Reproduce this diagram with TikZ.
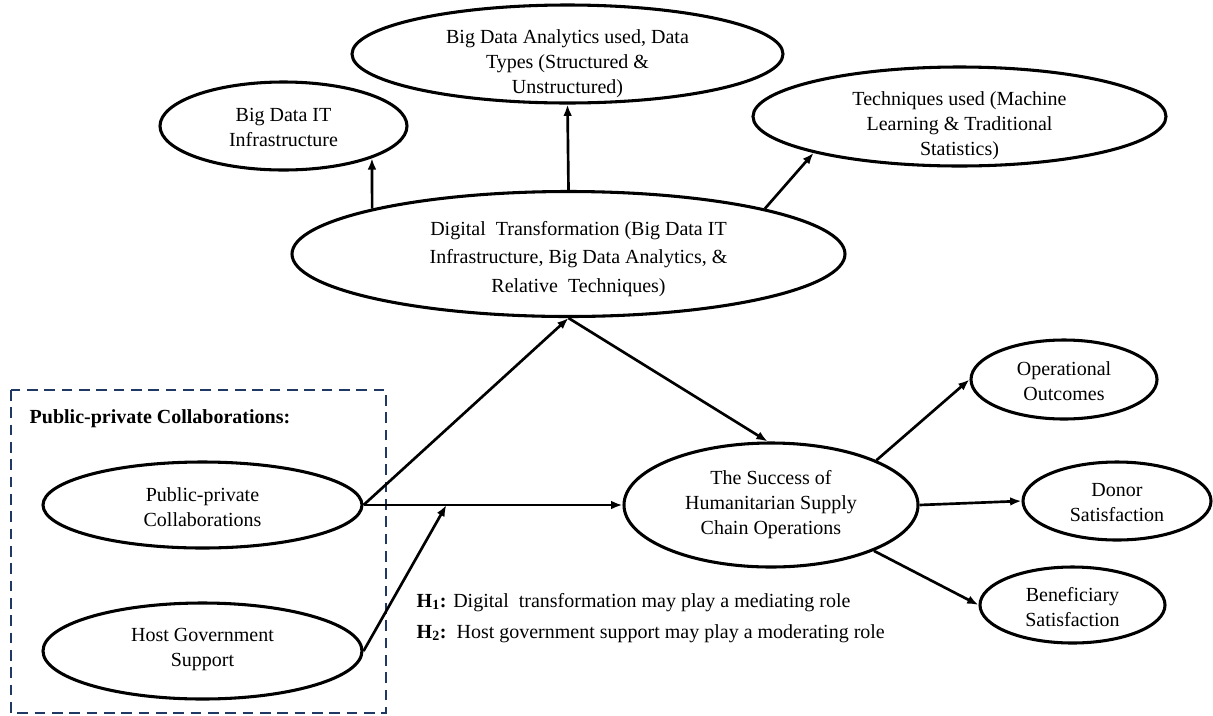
\documentclass[tikz,border=0pt]{standalone}
\usepackage{fontspec}
\setmainfont{Liberation Serif}
\usepackage{tikz}
\usetikzlibrary{arrows.meta,shapes.geometric}
\definecolor{boxnavy}{HTML}{1F3864}
\newcommand{\ovalnode}[8]{%
  \node[oval,minimum width=#4*0.75pt,minimum height=#5*0.75pt] (#1) at (#2,#3) {};
  \node[ovaltext] (#1t) at ([shift={(#6,#7)}]#1.center) {#8};
}
\tikzset{
  oval/.style={ellipse,draw,line width=2.3pt,inner sep=0pt},
  ovaltext/.style={align=center,inner sep=0pt},
  link/.style={line width=2pt,-{Latex[length=8.5pt,width=6.5pt]}},
}

\begin{document}
\begin{tikzpicture}[x=0.75pt,y=-0.75pt,font=\fontsize{15}{18.75}\selectfont]
  \useasboundingbox (0,0) rectangle (1213,715);
  \draw[boxnavy,line width=2.2pt,dash pattern=on 8pt off 5pt] (11,390) rectangle (386,713);
  \node[anchor=base west,font=\fontsize{15}{18.75}\selectfont\bfseries] (ppchead) at (25,423) {Public-private Collaborations:};
  \ovalnode{infra}{283.5}{126}{247}{88}{0}{1}{Big Data IT\\Infrastructure}
  \ovalnode{analytics}{567.5}{54}{431}{98}{0}{10}{Big Data Analytics used, Data\\Types (Structured \&\\Unstructured)}
  \ovalnode{techniques}{959.5}{116.5}{413}{99}{0}{9}{Techniques used (Machine\\Learning \& Traditional\\Statistics)}
  \ovalnode{digital}{568.5}{254}{553}{125}{10}{5}{Digital\ \ Transformation (Big Data IT\\[2.6pt]Infrastructure, Big Data Analytics, \&\\[2.6pt]Relative\ \ Techniques)}
  \ovalnode{ppc}{202.5}{505}{319}{86}{0}{2}{Public-private\\Collaborations}
  \ovalnode{host}{202.5}{651}{319}{96}{0}{-2}{Host Government\\Support}
  \ovalnode{success}{771}{505}{294}{124}{0}{0}{The Success of\\Humanitarian Supply\\Chain Operations}
  \ovalnode{operational}{1064}{379.5}{186}{79}{0}{2}{Operational\\Outcomes}
  \ovalnode{donor}{1117}{501}{188}{78}{0}{2}{Donor\\Satisfaction}
  \ovalnode{beneficiary}{1072.5}{605}{185}{76}{0}{2}{Beneficiary\\Satisfaction}
  \draw[link] (digital.167) -- (infra.-20);
  \draw[link] (digital.north) -- (analytics.south);
  \draw[link] (digital.13) -- (techniques.194);
  \draw[link] (ppc.east) -- (digital.south);
  \draw[link] (digital.south) -- (success.93);
  \draw[link] (ppc.east) -- (success.west);
  \path (ppc.east) -- (success.west) coordinate[pos=0.32] (moderator);
  \draw[link] (host.east) -- (moderator);
  \draw[link] (success.23) -- (operational.west);
  \draw[link] (success.east) -- (donor.west);
  \draw[link] (success.-24) -- (beneficiary.west);
  \node[anchor=base west] (hypone) at (412,607) {\textbf{H\textsubscript{1}:} Digital\ \ transformation may play a mediating role};
  \node[anchor=base west] (hyptwo) at (412,638) {\textbf{H\textsubscript{2}:}\ \ Host government support may play a moderating role};
\end{tikzpicture}
\end{document}
